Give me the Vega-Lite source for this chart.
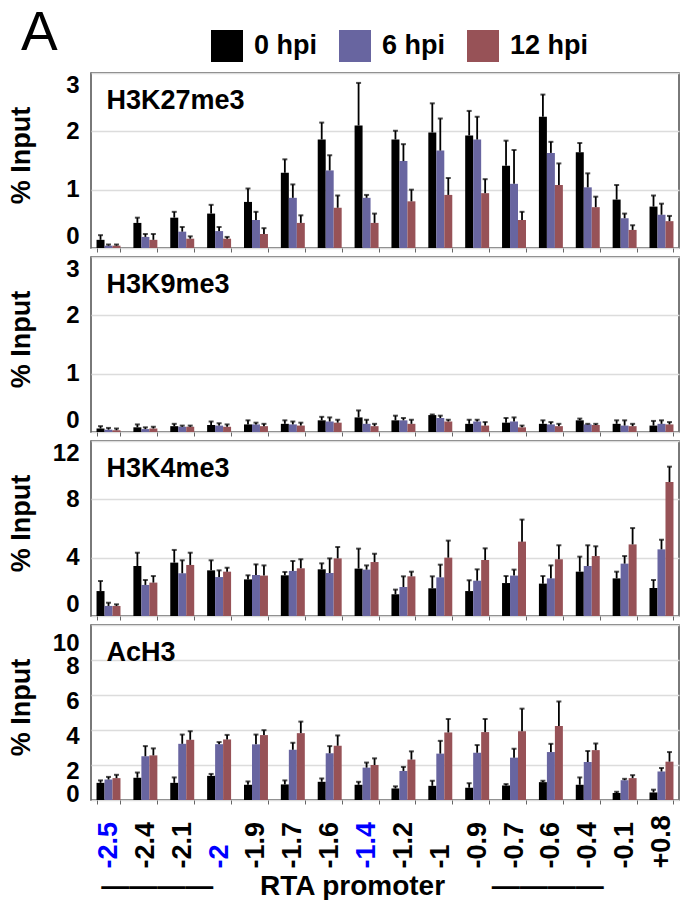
{
  "$schema": "https://vega.github.io/schema/vega-lite/v6.json",
  "padding": {"left": 6, "top": 30, "right": 5, "bottom": 0},
  "background": "white",
  "data": {"values": [
    {"mark":"H3K27me3","pos":"-2.5","time":"0 hpi","value":0.14,"upper":0.22},
    {"mark":"H3K27me3","pos":"-2.5","time":"6 hpi","value":0.04,"upper":0.06},
    {"mark":"H3K27me3","pos":"-2.5","time":"12 hpi","value":0.04,"upper":0.06},
    {"mark":"H3K27me3","pos":"-2.4","time":"0 hpi","value":0.43,"upper":0.52},
    {"mark":"H3K27me3","pos":"-2.4","time":"6 hpi","value":0.19,"upper":0.24},
    {"mark":"H3K27me3","pos":"-2.4","time":"12 hpi","value":0.14,"upper":0.24},
    {"mark":"H3K27me3","pos":"-2.1","time":"0 hpi","value":0.52,"upper":0.62},
    {"mark":"H3K27me3","pos":"-2.1","time":"6 hpi","value":0.28,"upper":0.36},
    {"mark":"H3K27me3","pos":"-2.1","time":"12 hpi","value":0.16,"upper":0.20},
    {"mark":"H3K27me3","pos":"-2","time":"0 hpi","value":0.59,"upper":0.74},
    {"mark":"H3K27me3","pos":"-2","time":"6 hpi","value":0.29,"upper":0.36},
    {"mark":"H3K27me3","pos":"-2","time":"12 hpi","value":0.16,"upper":0.19},
    {"mark":"H3K27me3","pos":"-1.9","time":"0 hpi","value":0.79,"upper":1.02},
    {"mark":"H3K27me3","pos":"-1.9","time":"6 hpi","value":0.48,"upper":0.62},
    {"mark":"H3K27me3","pos":"-1.9","time":"12 hpi","value":0.24,"upper":0.34},
    {"mark":"H3K27me3","pos":"-1.7","time":"0 hpi","value":1.29,"upper":1.52},
    {"mark":"H3K27me3","pos":"-1.7","time":"6 hpi","value":0.86,"upper":1.09},
    {"mark":"H3K27me3","pos":"-1.7","time":"12 hpi","value":0.43,"upper":0.56},
    {"mark":"H3K27me3","pos":"-1.6","time":"0 hpi","value":1.86,"upper":2.15},
    {"mark":"H3K27me3","pos":"-1.6","time":"6 hpi","value":1.33,"upper":1.59},
    {"mark":"H3K27me3","pos":"-1.6","time":"12 hpi","value":0.69,"upper":0.90},
    {"mark":"H3K27me3","pos":"-1.4","time":"0 hpi","value":2.10,"upper":2.83},
    {"mark":"H3K27me3","pos":"-1.4","time":"6 hpi","value":0.86,"upper":0.91},
    {"mark":"H3K27me3","pos":"-1.4","time":"12 hpi","value":0.43,"upper":0.59},
    {"mark":"H3K27me3","pos":"-1.2","time":"0 hpi","value":1.86,"upper":2.01},
    {"mark":"H3K27me3","pos":"-1.2","time":"6 hpi","value":1.49,"upper":1.78},
    {"mark":"H3K27me3","pos":"-1.2","time":"12 hpi","value":0.80,"upper":1.00},
    {"mark":"H3K27me3","pos":"-1","time":"0 hpi","value":1.98,"upper":2.48},
    {"mark":"H3K27me3","pos":"-1","time":"6 hpi","value":1.67,"upper":2.22},
    {"mark":"H3K27me3","pos":"-1","time":"12 hpi","value":0.91,"upper":1.20},
    {"mark":"H3K27me3","pos":"-0.9","time":"0 hpi","value":1.93,"upper":2.35},
    {"mark":"H3K27me3","pos":"-0.9","time":"6 hpi","value":1.86,"upper":2.25},
    {"mark":"H3K27me3","pos":"-0.9","time":"12 hpi","value":0.94,"upper":1.18},
    {"mark":"H3K27me3","pos":"-0.7","time":"0 hpi","value":1.41,"upper":1.84},
    {"mark":"H3K27me3","pos":"-0.7","time":"6 hpi","value":1.10,"upper":1.68},
    {"mark":"H3K27me3","pos":"-0.7","time":"12 hpi","value":0.48,"upper":0.62},
    {"mark":"H3K27me3","pos":"-0.6","time":"0 hpi","value":2.25,"upper":2.63},
    {"mark":"H3K27me3","pos":"-0.6","time":"6 hpi","value":1.63,"upper":1.82},
    {"mark":"H3K27me3","pos":"-0.6","time":"12 hpi","value":1.08,"upper":1.45},
    {"mark":"H3K27me3","pos":"-0.4","time":"0 hpi","value":1.64,"upper":1.80},
    {"mark":"H3K27me3","pos":"-0.4","time":"6 hpi","value":1.04,"upper":1.28},
    {"mark":"H3K27me3","pos":"-0.4","time":"12 hpi","value":0.70,"upper":0.88},
    {"mark":"H3K27me3","pos":"-0.1","time":"0 hpi","value":0.83,"upper":1.08},
    {"mark":"H3K27me3","pos":"-0.1","time":"6 hpi","value":0.51,"upper":0.59},
    {"mark":"H3K27me3","pos":"-0.1","time":"12 hpi","value":0.31,"upper":0.39},
    {"mark":"H3K27me3","pos":"+0.8","time":"0 hpi","value":0.71,"upper":0.90},
    {"mark":"H3K27me3","pos":"+0.8","time":"6 hpi","value":0.57,"upper":0.76},
    {"mark":"H3K27me3","pos":"+0.8","time":"12 hpi","value":0.46,"upper":0.55},

    {"mark":"H3K9me3","pos":"-2.5","time":"0 hpi","value":0.06,"upper":0.10},
    {"mark":"H3K9me3","pos":"-2.5","time":"6 hpi","value":0.04,"upper":0.07},
    {"mark":"H3K9me3","pos":"-2.5","time":"12 hpi","value":0.03,"upper":0.06},
    {"mark":"H3K9me3","pos":"-2.4","time":"0 hpi","value":0.08,"upper":0.13},
    {"mark":"H3K9me3","pos":"-2.4","time":"6 hpi","value":0.05,"upper":0.08},
    {"mark":"H3K9me3","pos":"-2.4","time":"12 hpi","value":0.06,"upper":0.09},
    {"mark":"H3K9me3","pos":"-2.1","time":"0 hpi","value":0.10,"upper":0.14},
    {"mark":"H3K9me3","pos":"-2.1","time":"6 hpi","value":0.09,"upper":0.11},
    {"mark":"H3K9me3","pos":"-2.1","time":"12 hpi","value":0.09,"upper":0.11},
    {"mark":"H3K9me3","pos":"-2","time":"0 hpi","value":0.12,"upper":0.18},
    {"mark":"H3K9me3","pos":"-2","time":"6 hpi","value":0.11,"upper":0.15},
    {"mark":"H3K9me3","pos":"-2","time":"12 hpi","value":0.09,"upper":0.13},
    {"mark":"H3K9me3","pos":"-1.9","time":"0 hpi","value":0.13,"upper":0.20},
    {"mark":"H3K9me3","pos":"-1.9","time":"6 hpi","value":0.13,"upper":0.16},
    {"mark":"H3K9me3","pos":"-1.9","time":"12 hpi","value":0.10,"upper":0.14},
    {"mark":"H3K9me3","pos":"-1.7","time":"0 hpi","value":0.14,"upper":0.20},
    {"mark":"H3K9me3","pos":"-1.7","time":"6 hpi","value":0.13,"upper":0.18},
    {"mark":"H3K9me3","pos":"-1.7","time":"12 hpi","value":0.11,"upper":0.16},
    {"mark":"H3K9me3","pos":"-1.6","time":"0 hpi","value":0.20,"upper":0.26},
    {"mark":"H3K9me3","pos":"-1.6","time":"6 hpi","value":0.18,"upper":0.25},
    {"mark":"H3K9me3","pos":"-1.6","time":"12 hpi","value":0.16,"upper":0.21},
    {"mark":"H3K9me3","pos":"-1.4","time":"0 hpi","value":0.25,"upper":0.37},
    {"mark":"H3K9me3","pos":"-1.4","time":"6 hpi","value":0.14,"upper":0.21},
    {"mark":"H3K9me3","pos":"-1.4","time":"12 hpi","value":0.10,"upper":0.14},
    {"mark":"H3K9me3","pos":"-1.2","time":"0 hpi","value":0.20,"upper":0.28},
    {"mark":"H3K9me3","pos":"-1.2","time":"6 hpi","value":0.20,"upper":0.24},
    {"mark":"H3K9me3","pos":"-1.2","time":"12 hpi","value":0.14,"upper":0.21},
    {"mark":"H3K9me3","pos":"-1","time":"0 hpi","value":0.29,"upper":0.30},
    {"mark":"H3K9me3","pos":"-1","time":"6 hpi","value":0.24,"upper":0.28},
    {"mark":"H3K9me3","pos":"-1","time":"12 hpi","value":0.18,"upper":0.21},
    {"mark":"H3K9me3","pos":"-0.9","time":"0 hpi","value":0.14,"upper":0.21},
    {"mark":"H3K9me3","pos":"-0.9","time":"6 hpi","value":0.18,"upper":0.21},
    {"mark":"H3K9me3","pos":"-0.9","time":"12 hpi","value":0.11,"upper":0.17},
    {"mark":"H3K9me3","pos":"-0.7","time":"0 hpi","value":0.16,"upper":0.24},
    {"mark":"H3K9me3","pos":"-0.7","time":"6 hpi","value":0.18,"upper":0.25},
    {"mark":"H3K9me3","pos":"-0.7","time":"12 hpi","value":0.08,"upper":0.11},
    {"mark":"H3K9me3","pos":"-0.6","time":"0 hpi","value":0.14,"upper":0.20},
    {"mark":"H3K9me3","pos":"-0.6","time":"6 hpi","value":0.13,"upper":0.17},
    {"mark":"H3K9me3","pos":"-0.6","time":"12 hpi","value":0.10,"upper":0.14},
    {"mark":"H3K9me3","pos":"-0.4","time":"0 hpi","value":0.20,"upper":0.23},
    {"mark":"H3K9me3","pos":"-0.4","time":"6 hpi","value":0.13,"upper":0.14},
    {"mark":"H3K9me3","pos":"-0.4","time":"12 hpi","value":0.12,"upper":0.14},
    {"mark":"H3K9me3","pos":"-0.1","time":"0 hpi","value":0.14,"upper":0.20},
    {"mark":"H3K9me3","pos":"-0.1","time":"6 hpi","value":0.11,"upper":0.20},
    {"mark":"H3K9me3","pos":"-0.1","time":"12 hpi","value":0.10,"upper":0.14},
    {"mark":"H3K9me3","pos":"+0.8","time":"0 hpi","value":0.11,"upper":0.19},
    {"mark":"H3K9me3","pos":"+0.8","time":"6 hpi","value":0.14,"upper":0.20},
    {"mark":"H3K9me3","pos":"+0.8","time":"12 hpi","value":0.13,"upper":0.17},

    {"mark":"H3K4me3","pos":"-2.5","time":"0 hpi","value":1.71,"upper":2.40},
    {"mark":"H3K4me3","pos":"-2.5","time":"6 hpi","value":0.69,"upper":0.91},
    {"mark":"H3K4me3","pos":"-2.5","time":"12 hpi","value":0.69,"upper":0.80},
    {"mark":"H3K4me3","pos":"-2.4","time":"0 hpi","value":3.43,"upper":4.34},
    {"mark":"H3K4me3","pos":"-2.4","time":"6 hpi","value":2.13,"upper":2.47},
    {"mark":"H3K4me3","pos":"-2.4","time":"12 hpi","value":2.29,"upper":2.74},
    {"mark":"H3K4me3","pos":"-2.1","time":"0 hpi","value":3.66,"upper":4.53},
    {"mark":"H3K4me3","pos":"-2.1","time":"6 hpi","value":2.93,"upper":3.82},
    {"mark":"H3K4me3","pos":"-2.1","time":"12 hpi","value":3.50,"upper":4.34},
    {"mark":"H3K4me3","pos":"-2","time":"0 hpi","value":3.13,"upper":3.82},
    {"mark":"H3K4me3","pos":"-2","time":"6 hpi","value":2.67,"upper":3.13},
    {"mark":"H3K4me3","pos":"-2","time":"12 hpi","value":3.04,"upper":3.31},
    {"mark":"H3K4me3","pos":"-1.9","time":"0 hpi","value":2.51,"upper":2.79},
    {"mark":"H3K4me3","pos":"-1.9","time":"6 hpi","value":2.81,"upper":3.54},
    {"mark":"H3K4me3","pos":"-1.9","time":"12 hpi","value":2.77,"upper":3.47},
    {"mark":"H3K4me3","pos":"-1.7","time":"0 hpi","value":2.79,"upper":3.02},
    {"mark":"H3K4me3","pos":"-1.7","time":"6 hpi","value":3.09,"upper":3.77},
    {"mark":"H3K4me3","pos":"-1.7","time":"12 hpi","value":3.27,"upper":3.89},
    {"mark":"H3K4me3","pos":"-1.6","time":"0 hpi","value":3.20,"upper":3.61},
    {"mark":"H3K4me3","pos":"-1.6","time":"6 hpi","value":2.95,"upper":3.95},
    {"mark":"H3K4me3","pos":"-1.6","time":"12 hpi","value":3.95,"upper":4.73},
    {"mark":"H3K4me3","pos":"-1.4","time":"0 hpi","value":3.25,"upper":4.62},
    {"mark":"H3K4me3","pos":"-1.4","time":"6 hpi","value":3.18,"upper":3.47},
    {"mark":"H3K4me3","pos":"-1.4","time":"12 hpi","value":3.70,"upper":4.27},
    {"mark":"H3K4me3","pos":"-1.2","time":"0 hpi","value":1.49,"upper":1.81},
    {"mark":"H3K4me3","pos":"-1.2","time":"6 hpi","value":1.99,"upper":2.72},
    {"mark":"H3K4me3","pos":"-1.2","time":"12 hpi","value":2.72,"upper":3.04},
    {"mark":"H3K4me3","pos":"-1","time":"0 hpi","value":1.90,"upper":2.72},
    {"mark":"H3K4me3","pos":"-1","time":"6 hpi","value":2.65,"upper":3.52},
    {"mark":"H3K4me3","pos":"-1","time":"12 hpi","value":4.00,"upper":5.17},
    {"mark":"H3K4me3","pos":"-0.9","time":"0 hpi","value":1.71,"upper":2.45},
    {"mark":"H3K4me3","pos":"-0.9","time":"6 hpi","value":2.42,"upper":3.20},
    {"mark":"H3K4me3","pos":"-0.9","time":"12 hpi","value":3.84,"upper":4.64},
    {"mark":"H3K4me3","pos":"-0.7","time":"0 hpi","value":2.26,"upper":2.74},
    {"mark":"H3K4me3","pos":"-0.7","time":"6 hpi","value":2.77,"upper":3.18},
    {"mark":"H3K4me3","pos":"-0.7","time":"12 hpi","value":5.10,"upper":6.61},
    {"mark":"H3K4me3","pos":"-0.6","time":"0 hpi","value":2.22,"upper":2.74},
    {"mark":"H3K4me3","pos":"-0.6","time":"6 hpi","value":2.58,"upper":3.47},
    {"mark":"H3K4me3","pos":"-0.6","time":"12 hpi","value":3.89,"upper":4.85},
    {"mark":"H3K4me3","pos":"-0.4","time":"0 hpi","value":3.04,"upper":4.07},
    {"mark":"H3K4me3","pos":"-0.4","time":"6 hpi","value":3.43,"upper":4.85},
    {"mark":"H3K4me3","pos":"-0.4","time":"12 hpi","value":4.11,"upper":4.78},
    {"mark":"H3K4me3","pos":"-0.1","time":"0 hpi","value":2.58,"upper":3.04},
    {"mark":"H3K4me3","pos":"-0.1","time":"6 hpi","value":3.59,"upper":4.11},
    {"mark":"H3K4me3","pos":"-0.1","time":"12 hpi","value":4.91,"upper":6.03},
    {"mark":"H3K4me3","pos":"+0.8","time":"0 hpi","value":1.92,"upper":2.47},
    {"mark":"H3K4me3","pos":"+0.8","time":"6 hpi","value":4.57,"upper":5.23},
    {"mark":"H3K4me3","pos":"+0.8","time":"12 hpi","value":9.19,"upper":10.24},

    {"mark":"AcH3","pos":"-2.5","time":"0 hpi","value":0.98,"upper":1.12},
    {"mark":"AcH3","pos":"-2.5","time":"6 hpi","value":1.17,"upper":1.32},
    {"mark":"AcH3","pos":"-2.5","time":"12 hpi","value":1.25,"upper":1.44},
    {"mark":"AcH3","pos":"-2.4","time":"0 hpi","value":1.27,"upper":1.57},
    {"mark":"AcH3","pos":"-2.4","time":"6 hpi","value":2.50,"upper":3.08},
    {"mark":"AcH3","pos":"-2.4","time":"12 hpi","value":2.55,"upper":2.95},
    {"mark":"AcH3","pos":"-2.1","time":"0 hpi","value":0.98,"upper":1.29},
    {"mark":"AcH3","pos":"-2.1","time":"6 hpi","value":3.21,"upper":3.74},
    {"mark":"AcH3","pos":"-2.1","time":"12 hpi","value":3.44,"upper":3.93},
    {"mark":"AcH3","pos":"-2","time":"0 hpi","value":1.38,"upper":1.49},
    {"mark":"AcH3","pos":"-2","time":"6 hpi","value":3.19,"upper":3.31},
    {"mark":"AcH3","pos":"-2","time":"12 hpi","value":3.46,"upper":3.72},
    {"mark":"AcH3","pos":"-1.9","time":"0 hpi","value":0.87,"upper":1.06},
    {"mark":"AcH3","pos":"-1.9","time":"6 hpi","value":3.18,"upper":3.74},
    {"mark":"AcH3","pos":"-1.9","time":"12 hpi","value":3.71,"upper":3.99},
    {"mark":"AcH3","pos":"-1.7","time":"0 hpi","value":0.89,"upper":1.12},
    {"mark":"AcH3","pos":"-1.7","time":"6 hpi","value":2.87,"upper":3.27},
    {"mark":"AcH3","pos":"-1.7","time":"12 hpi","value":3.82,"upper":4.48},
    {"mark":"AcH3","pos":"-1.6","time":"0 hpi","value":1.04,"upper":1.23},
    {"mark":"AcH3","pos":"-1.6","time":"6 hpi","value":2.67,"upper":3.08},
    {"mark":"AcH3","pos":"-1.6","time":"12 hpi","value":3.10,"upper":3.69},
    {"mark":"AcH3","pos":"-1.4","time":"0 hpi","value":0.87,"upper":1.04},
    {"mark":"AcH3","pos":"-1.4","time":"6 hpi","value":1.85,"upper":2.14},
    {"mark":"AcH3","pos":"-1.4","time":"12 hpi","value":2.00,"upper":2.38},
    {"mark":"AcH3","pos":"-1.2","time":"0 hpi","value":0.66,"upper":0.78},
    {"mark":"AcH3","pos":"-1.2","time":"6 hpi","value":1.66,"upper":1.89},
    {"mark":"AcH3","pos":"-1.2","time":"12 hpi","value":2.31,"upper":2.78},
    {"mark":"AcH3","pos":"-1","time":"0 hpi","value":0.81,"upper":1.10},
    {"mark":"AcH3","pos":"-1","time":"6 hpi","value":2.65,"upper":3.38},
    {"mark":"AcH3","pos":"-1","time":"12 hpi","value":3.86,"upper":4.63},
    {"mark":"AcH3","pos":"-0.9","time":"0 hpi","value":0.70,"upper":0.96},
    {"mark":"AcH3","pos":"-0.9","time":"6 hpi","value":2.70,"upper":3.14},
    {"mark":"AcH3","pos":"-0.9","time":"12 hpi","value":3.88,"upper":4.63},
    {"mark":"AcH3","pos":"-0.7","time":"0 hpi","value":0.83,"upper":0.91},
    {"mark":"AcH3","pos":"-0.7","time":"6 hpi","value":2.42,"upper":2.93},
    {"mark":"AcH3","pos":"-0.7","time":"12 hpi","value":3.93,"upper":5.22},
    {"mark":"AcH3","pos":"-0.6","time":"0 hpi","value":1.02,"upper":1.10},
    {"mark":"AcH3","pos":"-0.6","time":"6 hpi","value":2.74,"upper":3.21},
    {"mark":"AcH3","pos":"-0.6","time":"12 hpi","value":4.23,"upper":5.63},
    {"mark":"AcH3","pos":"-0.4","time":"0 hpi","value":0.87,"upper":1.29},
    {"mark":"AcH3","pos":"-0.4","time":"6 hpi","value":2.17,"upper":2.80},
    {"mark":"AcH3","pos":"-0.4","time":"12 hpi","value":2.85,"upper":3.23},
    {"mark":"AcH3","pos":"-0.1","time":"0 hpi","value":0.40,"upper":0.47},
    {"mark":"AcH3","pos":"-0.1","time":"6 hpi","value":1.13,"upper":1.21},
    {"mark":"AcH3","pos":"-0.1","time":"12 hpi","value":1.25,"upper":1.42},
    {"mark":"AcH3","pos":"+0.8","time":"0 hpi","value":0.43,"upper":0.59},
    {"mark":"AcH3","pos":"+0.8","time":"6 hpi","value":1.63,"upper":1.83},
    {"mark":"AcH3","pos":"+0.8","time":"12 hpi","value":2.19,"upper":2.74}
  ]},
  "spacing": 2,
  "vconcat": [
    {
      "width": 588, "height": 175,
      "transform": [{"filter": "datum.mark === 'H3K27me3'"}],
      "encoding": {
        "x": {"field": "pos", "type": "nominal", "sort": ["-2.5","-2.4","-2.1","-2","-1.9","-1.7","-1.6","-1.4","-1.2","-1","-0.9","-0.7","-0.6","-0.4","-0.1","+0.8"], "scale": {"paddingInner": 0.35, "paddingOuter": 0.15}, "axis": {"labels": false, "title": null}},
        "y": {"field": "value", "type": "quantitative", "title": "% Input", "scale": {"domain": [0, 3], "nice": false}, "axis": {"values": [0, 1, 2, 3]}}
      },
      "layer": [
        {"mark": {"type": "bar"}, "encoding": {"xOffset": {"field": "time", "type": "nominal", "sort": ["0 hpi","6 hpi","12 hpi"], "scale": {"paddingInner": 0, "paddingOuter": 0}}, "color": {"field": "time", "type": "nominal", "sort": ["0 hpi","6 hpi","12 hpi"], "scale": {"domain": ["0 hpi","6 hpi","12 hpi"], "range": ["#000000","#6865a0","#975257"]}, "legend": {"title": "A"}}}},
        {"mark": {"type": "rule", "color": "black", "strokeWidth": 1.8}, "encoding": {"xOffset": {"field": "time", "type": "nominal", "sort": ["0 hpi","6 hpi","12 hpi"]}, "y2": {"field": "upper"}}},
        {"mark": {"type": "tick", "orient": "horizontal", "color": "black", "thickness": 2, "size": 5}, "encoding": {"xOffset": {"field": "time", "type": "nominal", "sort": ["0 hpi","6 hpi","12 hpi"]}, "y": {"field": "upper", "type": "quantitative", "title": "% Input"}}},
        {"transform": [{"filter": "datum.pos === '-2.5' && datum.time === '0 hpi'"}], "mark": {"type": "text", "align": "left", "baseline": "alphabetic", "dx": -2, "dy": 36, "fontSize": 27, "fontWeight": "bold", "color": "black"}, "encoding": {"y": {"datum": 3, "type": "quantitative"}, "text": {"field": "mark", "type": "nominal"}}}
      ]
    },
    {
      "width": 588, "height": 175,
      "transform": [{"filter": "datum.mark === 'H3K9me3'"}],
      "encoding": {
        "x": {"field": "pos", "type": "nominal", "sort": ["-2.5","-2.4","-2.1","-2","-1.9","-1.7","-1.6","-1.4","-1.2","-1","-0.9","-0.7","-0.6","-0.4","-0.1","+0.8"], "scale": {"paddingInner": 0.35, "paddingOuter": 0.15}, "axis": {"labels": false, "title": null}},
        "y": {"field": "value", "type": "quantitative", "title": "% Input", "scale": {"domain": [0, 3], "nice": false}, "axis": {"values": [0, 1, 2, 3]}}
      },
      "layer": [
        {"mark": {"type": "bar"}, "encoding": {"xOffset": {"field": "time", "type": "nominal", "sort": ["0 hpi","6 hpi","12 hpi"], "scale": {"paddingInner": 0, "paddingOuter": 0}}, "color": {"field": "time", "type": "nominal", "sort": ["0 hpi","6 hpi","12 hpi"], "scale": {"domain": ["0 hpi","6 hpi","12 hpi"], "range": ["#000000","#6865a0","#975257"]}, "legend": {"title": "A"}}}},
        {"mark": {"type": "rule", "color": "black", "strokeWidth": 1.8}, "encoding": {"xOffset": {"field": "time", "type": "nominal", "sort": ["0 hpi","6 hpi","12 hpi"]}, "y2": {"field": "upper"}}},
        {"mark": {"type": "tick", "orient": "horizontal", "color": "black", "thickness": 2, "size": 5}, "encoding": {"xOffset": {"field": "time", "type": "nominal", "sort": ["0 hpi","6 hpi","12 hpi"]}, "y": {"field": "upper", "type": "quantitative", "title": "% Input"}}},
        {"transform": [{"filter": "datum.pos === '-2.5' && datum.time === '0 hpi'"}], "mark": {"type": "text", "align": "left", "baseline": "alphabetic", "dx": -2, "dy": 36, "fontSize": 27, "fontWeight": "bold", "color": "black"}, "encoding": {"y": {"datum": 3, "type": "quantitative"}, "text": {"field": "mark", "type": "nominal"}}}
      ]
    },
    {
      "width": 588, "height": 175,
      "transform": [{"filter": "datum.mark === 'H3K4me3'"}],
      "encoding": {
        "x": {"field": "pos", "type": "nominal", "sort": ["-2.5","-2.4","-2.1","-2","-1.9","-1.7","-1.6","-1.4","-1.2","-1","-0.9","-0.7","-0.6","-0.4","-0.1","+0.8"], "scale": {"paddingInner": 0.35, "paddingOuter": 0.15}, "axis": {"labels": false, "title": null}},
        "y": {"field": "value", "type": "quantitative", "title": "% Input", "scale": {"domain": [0, 12], "nice": false}, "axis": {"values": [0, 4, 8, 12]}}
      },
      "layer": [
        {"mark": {"type": "bar"}, "encoding": {"xOffset": {"field": "time", "type": "nominal", "sort": ["0 hpi","6 hpi","12 hpi"], "scale": {"paddingInner": 0, "paddingOuter": 0}}, "color": {"field": "time", "type": "nominal", "sort": ["0 hpi","6 hpi","12 hpi"], "scale": {"domain": ["0 hpi","6 hpi","12 hpi"], "range": ["#000000","#6865a0","#975257"]}, "legend": {"title": "A"}}}},
        {"mark": {"type": "rule", "color": "black", "strokeWidth": 1.8}, "encoding": {"xOffset": {"field": "time", "type": "nominal", "sort": ["0 hpi","6 hpi","12 hpi"]}, "y2": {"field": "upper"}}},
        {"mark": {"type": "tick", "orient": "horizontal", "color": "black", "thickness": 2, "size": 5}, "encoding": {"xOffset": {"field": "time", "type": "nominal", "sort": ["0 hpi","6 hpi","12 hpi"]}, "y": {"field": "upper", "type": "quantitative", "title": "% Input"}}},
        {"transform": [{"filter": "datum.pos === '-2.5' && datum.time === '0 hpi'"}], "mark": {"type": "text", "align": "left", "baseline": "alphabetic", "dx": -2, "dy": 36, "fontSize": 27, "fontWeight": "bold", "color": "black"}, "encoding": {"y": {"datum": 12, "type": "quantitative"}, "text": {"field": "mark", "type": "nominal"}}}
      ]
    },
    {
      "width": 588, "height": 175,
      "transform": [{"filter": "datum.mark === 'AcH3'"}],
      "encoding": {
        "x": {"field": "pos", "type": "nominal", "sort": ["-2.5","-2.4","-2.1","-2","-1.9","-1.7","-1.6","-1.4","-1.2","-1","-0.9","-0.7","-0.6","-0.4","-0.1","+0.8"], "scale": {"paddingInner": 0.35, "paddingOuter": 0.15},
          "axis": {"labels": true, "title": "————\u00a0\u00a0\u00a0\u00a0\u00a0\u00a0RTA promoter\u00a0\u00a0\u00a0\u00a0\u00a0\u00a0————", "titleX": 261, "titleFontSize": 28, "titlePadding": 4, "titleBaseline": "top",
            "labelColor": {"condition": {"test": "indexof(['-2.5','-2','-1.4'], datum.value) >= 0", "value": "#0000ff"}, "value": "black"}}},
        "y": {"field": "value", "type": "quantitative", "title": "% Input", "scale": {"domain": [0, 10], "nice": false}, "axis": {"values": [0, 2, 4, 6, 8, 10], "labelOffset": 6}}
      },
      "layer": [
        {"mark": {"type": "bar"}, "encoding": {"xOffset": {"field": "time", "type": "nominal", "sort": ["0 hpi","6 hpi","12 hpi"], "scale": {"paddingInner": 0, "paddingOuter": 0}}, "color": {"field": "time", "type": "nominal", "sort": ["0 hpi","6 hpi","12 hpi"], "scale": {"domain": ["0 hpi","6 hpi","12 hpi"], "range": ["#000000","#6865a0","#975257"]}, "legend": {"title": "A"}}}},
        {"mark": {"type": "rule", "color": "black", "strokeWidth": 1.8}, "encoding": {"xOffset": {"field": "time", "type": "nominal", "sort": ["0 hpi","6 hpi","12 hpi"]}, "y2": {"field": "upper"}}},
        {"mark": {"type": "tick", "orient": "horizontal", "color": "black", "thickness": 2, "size": 5}, "encoding": {"xOffset": {"field": "time", "type": "nominal", "sort": ["0 hpi","6 hpi","12 hpi"]}, "y": {"field": "upper", "type": "quantitative", "title": "% Input"}}},
        {"transform": [{"filter": "datum.pos === '-2.5' && datum.time === '0 hpi'"}], "mark": {"type": "text", "align": "left", "baseline": "alphabetic", "dx": -2, "dy": 36, "fontSize": 27, "fontWeight": "bold", "color": "black"}, "encoding": {"y": {"datum": 10, "type": "quantitative"}, "text": {"field": "mark", "type": "nominal"}}}
      ]
    }
  ],
  "config": {
    "font": "Liberation Sans",
    "view": {"stroke": "#4d4d4d", "strokeWidth": 1.5},
    "axis": {"labelFontWeight": "bold", "labelColor": "black", "titleFontWeight": "bold", "titleColor": "black", "domain": false},
    "axisY": {"grid": true, "gridColor": "#dcdcdc", "gridWidth": 1.5, "ticks": false, "labelFontSize": 24, "labelPadding": 12, "labelFlush": true, "labelOverlap": false, "titleFontSize": 27, "titleAngle": -90, "titleX": -56, "titleY": 82, "titleBaseline": "bottom", "titleAlign": "center"},
    "axisX": {"grid": false, "ticks": true, "tickBand": "extent", "tickSize": 4, "tickColor": "#666666", "tickWidth": 1, "labelFontSize": 27, "labelAngle": -90, "labelAlign": "left", "labelBaseline": "middle", "labelPadding": 64, "labelOverlap": false},
    "legend": {"orient": "none", "legendX": -70, "legendY": -43, "direction": "horizontal", "titleOrient": "left", "titleAnchor": "end", "titleFontSize": 55, "titleFontWeight": "normal", "titleColor": "black", "titlePadding": 153, "titleBaseline": "bottom", "symbolType": "square", "symbolSize": 1024, "symbolStrokeWidth": 0, "symbolOpacity": 1, "labelFontSize": 27, "labelFontWeight": "bold", "labelColor": "black", "labelOffset": 11, "columnPadding": 21, "padding": 0}
  }
}
